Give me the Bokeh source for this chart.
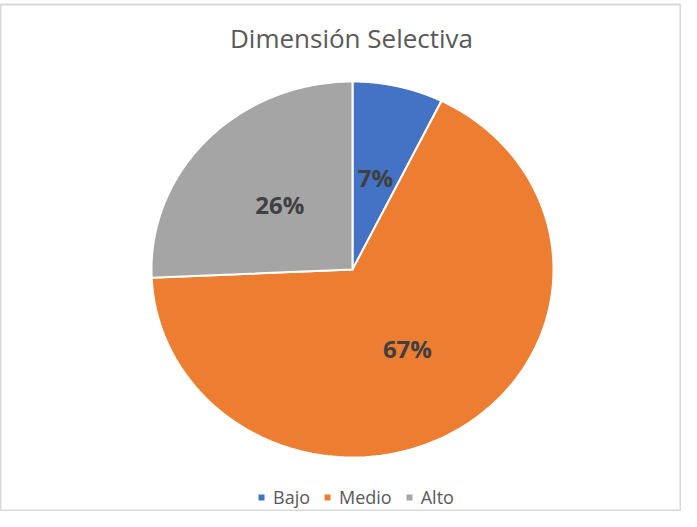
import numpy as np
from bokeh.plotting import figure
from bokeh.models import Label, Legend, LegendItem, Range1d
from bokeh.core.properties import value
from bokeh.embed import file_html
from bokeh.resources import INLINE

# ---- data ----
title = "Dimensión Selectiva"
categories = ["Bajo", "Medio", "Alto"]
percent = [7.3, 67.0, 25.7]
colors = ["#4472C4", "#ED7D31", "#A5A5A5"]

# ---- layout ----
W, H = 681, 511
cx_px, cy_px = 352, 269     # pie centre on the canvas
rx_px, ry_px = 201, 188     # pie radii in pixels (slightly stretched)
top_pad = 4

x_range = Range1d(-cx_px / rx_px, (W - cx_px) / rx_px)
y_range = Range1d(-(H - cy_px) / ry_px, (cy_px - top_pad) / ry_px)

p = figure(width=W, height=H, x_range=x_range, y_range=y_range,
           output_backend="svg", toolbar_location=None,
           x_axis_location=None, y_axis_location=None,
           min_border_left=0, min_border_right=0,
           min_border_top=top_pad, min_border_bottom=0)
p.grid.visible = False
p.outline_line_color = "#d9d9d9"
p.outline_line_width = 2
p.background_fill_color = "white"
p.border_fill_color = "white"

total = float(sum(percent))
start = 0.0
items = []
lx, ly, labels = [], [], []
for cat, pct, col in zip(categories, percent, colors):
    f0 = start / total
    f1 = (start + pct) / total
    t = np.linspace(f0, f1, 160) * 2 * np.pi
    xs = np.concatenate([[0.0], np.sin(t), [0.0]])
    ys = np.concatenate([[0.0], np.cos(t), [0.0]])
    r = p.patch(xs, ys, fill_color=col, line_color="white", line_width=2,
                line_join="miter")
    items.append(LegendItem(label=cat, renderers=[r]))
    mid = (f0 + f1) / 2 * 2 * np.pi
    lx.append(0.5 * np.sin(mid))
    ly.append(0.5 * np.cos(mid))
    labels.append(f"{round(pct)}%")
    start += pct

p.text(x=lx, y=ly, text=labels, text_font=value("Open Sans"),
       text_font_size="24px", text_font_style="bold", text_color="#404040",
       text_align="center", text_baseline="middle")

p.add_layout(Label(x=351, y=474, x_units="screen", y_units="screen",
                   text=title, text_align="center", text_baseline="middle",
                   text_font="Open Sans", text_font_size="26px",
                   text_color="#595959"))

legend = Legend(items=items, location=(256, 2), orientation="horizontal",
                border_line_color=None, background_fill_alpha=0,
                label_text_font="Open Sans", label_text_font_size="18px",
                label_text_color="#595959", glyph_width=10, glyph_height=10,
                label_standoff=7, spacing=12, padding=0, margin=0)
p.add_layout(legend)

open("out.html", "w").write(file_html(p, INLINE))
